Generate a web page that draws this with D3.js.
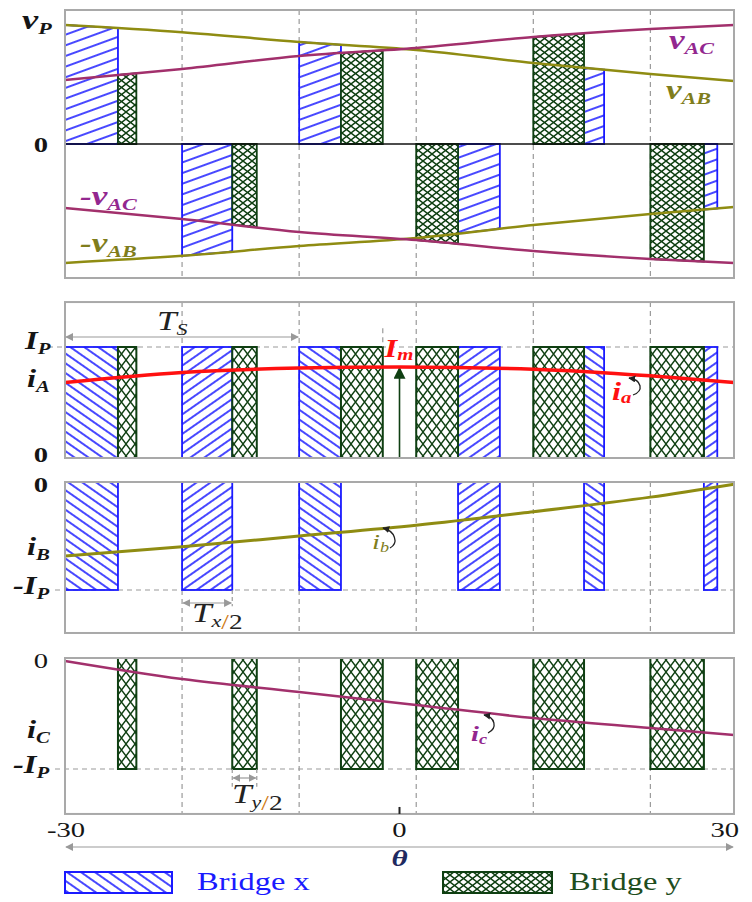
<!DOCTYPE html>
<html>
<head>
<meta charset="utf-8">
<script src="https://cdn.jsdelivr.net/npm/d3@7"></script>
<style>body{margin:0;background:#fff}</style>
</head>
<body>
<svg id="chart" width="752" height="902"></svg>
<script>
// curves (vP = 1, IP = 1)
const theta = [-30, -19.5, -9, 1.5, 12, 22.5, 30];
const vAB = [1.0, 0.94, 0.857, 0.79, 0.681, 0.588, 0.529];
const vAC = [0.538, 0.63, 0.739, 0.807, 0.899, 0.966, 1.0];
const thetaA = [-30, -19.5, -9, 0, 12, 22.5, 30];
const iA = [0.68, 0.77, 0.81, 0.82, 0.80, 0.74, 0.68];
const iB = [-0.685, -0.60, -0.50, -0.40, -0.275, -0.14, -0.02];
const iC = [-0.027, -0.19, -0.306, -0.423, -0.541, -0.631, -0.694];

// switching periods
const periodStart = [-30, -19.5, -9, 1.5, 12, 22.5];
const polarity = [1, -1, 1, -1, 1, -1];
const bridgeX = [[-30, -25.25], [-19.5, -15], [-9, -5.25], [5.25, 9], [16.55, 18.35], [27.3, 28.5]];
const bridgeY = [[-25.25, -23.6], [-15, -12.8], [-5.25, -1.5], [1.5, 5.25], [12, 16.55], [22.5, 27.3]];
const Ts = 21;
const xTicks = [-30, 0, 30];

const BLUE = '#1a1aff', GREEN = '#0f3f12', OLIVE = '#8f8c12', PURPLE = '#a2306c',
      RED = '#ff1010', GREY = '#a9a9a9', DASH = '#9a9a9a';
const serif = '"Liberation Serif", "Times New Roman", serif';
const sx = 1.3; // the figure's text is stretched sideways

const svg = d3.select('#chart');
const defs = svg.append('defs');

const x = d3.scaleLinear([-30, 30], [65, 734]);
const yV = d3.scaleLinear([-1.126, 1.126], [278, 10]);
const yA = d3.scaleLinear([0, 1], [458, 347]);
const yB = d3.scaleLinear([-1, 0], [590, 482]);
const yC = d3.scaleLinear([-1, 0], [769, 658]);

const fAB = d3.scaleLinear(theta, vAB);
const fAC = d3.scaleLinear(theta, vAC);

// patterns
function hatch(id, angle, gap, color, w) {
    defs.append('pattern').attr('id', id)
        .attr('patternUnits', 'userSpaceOnUse')
        .attr('width', gap).attr('height', gap)
        .attr('patternTransform', `rotate(${angle})`)
        .append('line')
        .attr('x1', gap / 2).attr('y1', -1).attr('x2', gap / 2).attr('y2', gap + 1)
        .attr('stroke', color).attr('stroke-width', w);
}
function cross(id, w, h) {
    const p = defs.append('pattern').attr('id', id)
        .attr('patternUnits', 'userSpaceOnUse')
        .attr('width', w).attr('height', h);
    p.append('rect').attr('width', w).attr('height', h).attr('fill', '#fff');
    p.append('path')
        .attr('d', `M${-w/2},${-h/2} L${w*1.5},${h*1.5} M${w*1.5},${-h/2} L${-w/2},${h*1.5}`)
        .attr('stroke', GREEN).attr('stroke-width', 1.4).attr('fill', 'none');
}
hatch('hx-top', 70, 10, BLUE, 1.6);
hatch('hx-down', -55, 8, BLUE, 1.6);
hatch('hx-up', 55, 8, BLUE, 1.6);
cross('cy-top', 9, 7);
cross('cy', 9, 12);

function marker(id, color, size) {
    defs.append('marker').attr('id', id)
        .attr('viewBox', '0 0 10 10').attr('refX', 9).attr('refY', 5)
        .attr('markerWidth', size).attr('markerHeight', size)
        .attr('markerUnits', 'userSpaceOnUse')
        .attr('orient', 'auto-start-reverse')
        .append('path').attr('d', 'M0,0 L10,5 L0,10 z').attr('fill', color);
}
marker('ar-grey', '#999', 8);
marker('ar-green', GREEN, 12);
marker('ar-black', '#222', 7);

function label(x0, y0, main, sub, o) {
    o = o || {};
    const size = o.size || 24;
    const t = svg.append('text')
        .attr('transform', `translate(${x0},${y0}) scale(${sx},1)`)
        .attr('text-anchor', o.anchor || 'start')
        .style('font-family', serif)
        .style('font-size', size + 'px')
        .style('font-weight', o.weight || 'bold')
        .style('font-style', o.italic === false ? 'normal' : 'italic')
        .attr('fill', o.color || '#151515');
    t.append('tspan').text(main);
    if (sub) {
        t.append('tspan').attr('dy', o.subDy || 5)
            .style('font-size', Math.round(size * 0.62) + 'px').text(sub);
    }
    return t;
}

function gridLines(y, lo, hi) {
    svg.append('g').selectAll('line')
        .data(periodStart.slice(1))
        .enter().append('line')
        .attr('x1', d => x(d)).attr('x2', d => x(d))
        .attr('y1', y(hi)).attr('y2', y(lo))
        .attr('stroke', DASH).attr('stroke-width', 1.2).attr('stroke-dasharray', '5,4');
}
function box(y, lo, hi) {
    svg.append('rect')
        .attr('x', x(-30)).attr('y', y(hi))
        .attr('width', x(30) - x(-30)).attr('height', y(lo) - y(hi))
        .attr('fill', 'none').attr('stroke', GREY).attr('stroke-width', 2);
}
function hline(y, v, x0) {
    svg.append('line')
        .attr('x1', x0).attr('x2', x(30)).attr('y1', y(v)).attr('y2', y(v))
        .attr('stroke', DASH).attr('stroke-width', 1.2).attr('stroke-dasharray', '5,4');
}
function curve(y, xs, vs, color, w) {
    svg.append('path')
        .datum(xs.map((t, i) => [t, vs[i]]))
        .attr('d', d3.line().x(d => x(d[0])).y(d => y(d[1])).curve(d3.curveMonotoneX))
        .attr('fill', 'none').attr('stroke', color).attr('stroke-width', w);
}
function arrow(x1, y1, x2, y2, m, color, w, both) {
    const l = svg.append('line')
        .attr('x1', x1).attr('y1', y1).attr('x2', x2).attr('y2', y2)
        .attr('stroke', color).attr('stroke-width', w)
        .attr('marker-end', `url(#${m})`);
    if (both) l.attr('marker-start', `url(#${m})`);
}
function curly(d) {
    svg.append('path').attr('d', d).attr('fill', 'none')
        .attr('stroke', '#222').attr('stroke-width', 1.3)
        .attr('marker-end', 'url(#ar-black)');
}

// ---------- panel 1: line voltages ----------
gridLines(yV, -1.126, 1.126);

function voltBar(iv, f, s, fill, stroke) {
    const pts = d3.range(iv[0], iv[1], 0.25).concat([iv[1]]);
    svg.append('path')
        .datum(pts)
        .attr('d', d3.area().x(d => x(d)).y0(yV(0)).y1(d => yV(s * f(d))))
        .attr('fill', fill).attr('stroke', stroke).attr('stroke-width', 1.8);
}
polarity.forEach((s, i) => {
    voltBar(bridgeX[i], fAB, s, 'url(#hx-top)', BLUE);
    voltBar(bridgeY[i], fAC, s, 'url(#cy-top)', GREEN);
});

svg.append('line').attr('x1', x(-30)).attr('x2', x(30))
    .attr('y1', yV(0)).attr('y2', yV(0)).attr('stroke', '#111').attr('stroke-width', 1.6);
curve(yV, theta, vAB, OLIVE, 2.5);
curve(yV, theta, vAC, PURPLE, 2.5);
curve(yV, theta, vAB.map(v => -v), OLIVE, 2.5);
curve(yV, theta, vAC.map(v => -v), PURPLE, 2.5);
box(yV, -1.126, 1.126);

label(22, 29, 'v', 'P', {size: 28});
label(48, 152, '0', null, {size: 22, italic: false, anchor: 'end'});
label(669, 49, 'v', 'AC', {size: 27, color: '#93278f'});
label(666, 99, 'v', 'AB', {size: 27, color: '#7f7d1c'});
label(80, 205, '-v', 'AC', {size: 27, color: '#93278f'});
label(80, 252, '-v', 'AB', {size: 27, color: '#7f7d1c'});

// ---------- panel 2: iA ----------
gridLines(yA, 0, 1.405);
hline(yA, 1, 48);
polarity.forEach((s, i) => {
    const bx = bridgeX[i], by = bridgeY[i];
    svg.append('rect').attr('x', x(bx[0])).attr('y', yA(1))
        .attr('width', x(bx[1]) - x(bx[0])).attr('height', yA(0) - yA(1))
        .attr('fill', s > 0 ? 'url(#hx-down)' : 'url(#hx-up)')
        .attr('stroke', BLUE).attr('stroke-width', 1.8);
    svg.append('rect').attr('x', x(by[0])).attr('y', yA(1))
        .attr('width', x(by[1]) - x(by[0])).attr('height', yA(0) - yA(1))
        .attr('fill', 'url(#cy)').attr('stroke', GREEN).attr('stroke-width', 2);
});
svg.append('line')
    .attr('x1', x(bridgeY[2][1])).attr('x2', x(bridgeY[2][1]))
    .attr('y1', yA(1.17)).attr('y2', yA(1))
    .attr('stroke', DASH).attr('stroke-width', 1.2).attr('stroke-dasharray', '5,4');
arrow(x(0), yA(0), x(0), yA(iA[3]) + 1, 'ar-green', GREEN, 1.6);
curve(yA, thetaA, iA, RED, 3.5);
box(yA, 0, 1.405);

arrow(x(-30) + 1, 337, x(-30 + Ts) - 1, 337, 'ar-grey', '#999', 1.2, true);
label(157, 330, 'T', 'S', {size: 27, weight: 'normal', color: '#222'});
label(25, 349, 'I', 'P', {size: 25});
label(27, 387, 'i', 'A', {size: 25});
label(48, 462, '0', null, {size: 22, italic: false, anchor: 'end'});
label(399, 357, 'I', 'm', {size: 25, color: RED, anchor: 'middle', subDy: 3});
label(612, 400, 'i', 'a', {size: 25, color: RED, subDy: 3});
curly('M633,395 C644,391 642,380 629,378');

// ---------- panel 3: iB ----------
gridLines(yB, -1.398, 0);
hline(yB, -1, 55);
polarity.forEach((s, i) => {
    const bx = bridgeX[i];
    svg.append('rect').attr('x', x(bx[0])).attr('y', yB(0))
        .attr('width', x(bx[1]) - x(bx[0])).attr('height', yB(-1) - yB(0))
        .attr('fill', s > 0 ? 'url(#hx-down)' : 'url(#hx-up)')
        .attr('stroke', BLUE).attr('stroke-width', 1.8);
});
curve(yB, theta, iB, OLIVE, 3);
box(yB, -1.398, 0);

svg.append('line').attr('x1', x(bridgeX[1][1])).attr('x2', x(bridgeX[1][1]))
    .attr('y1', yB(-1)).attr('y2', yB(-1.15))
    .attr('stroke', DASH).attr('stroke-width', 1.2).attr('stroke-dasharray', '4,3');
arrow(x(bridgeX[1][0]) + 1, 603, x(bridgeX[1][1]) - 1, 603, 'ar-grey', '#999', 1.2, true);
label(192, 622, 'T', 'x', {size: 27, weight: 'normal', color: '#222'})
    .call(t => {
        t.append('tspan').attr('dy', 2).style('font-style', 'normal').style('font-size', '21px')
            .attr('fill', '#d07a10').text('/');
        t.append('tspan').style('font-style', 'normal').style('font-size', '21px').text('2');
    });
label(27, 555, 'i', 'B', {size: 25});
label(13, 594, '-I', 'P', {size: 25});
label(48, 492, '0', null, {size: 22, italic: false, anchor: 'end'});
label(372, 549, 'i', 'b', {size: 22, weight: 'normal', color: '#7f7d1c', subDy: 3});
curly('M390,548 C399,543 395,531 383,528');

// ---------- panel 4: iC ----------
gridLines(yC, -1.405, 0);
hline(yC, -1, 55);
bridgeY.forEach(by => {
    svg.append('rect').attr('x', x(by[0])).attr('y', yC(0))
        .attr('width', x(by[1]) - x(by[0])).attr('height', yC(-1) - yC(0))
        .attr('fill', 'url(#cy)').attr('stroke', GREEN).attr('stroke-width', 2);
});
curve(yC, theta, iC, PURPLE, 2.5);
box(yC, -1.405, 0);

[bridgeY[1][0], bridgeY[1][1]].forEach(t => {
    svg.append('line').attr('x1', x(t)).attr('x2', x(t))
        .attr('y1', yC(-1)).attr('y2', yC(-1.16))
        .attr('stroke', DASH).attr('stroke-width', 1.2).attr('stroke-dasharray', '4,3');
});
arrow(x(bridgeY[1][0]) + 1, 778, x(bridgeY[1][1]) - 1, 778, 'ar-grey', '#999', 1.2, true);
label(232, 803, 'T', 'y', {size: 27, weight: 'normal', color: '#222'})
    .call(t => {
        t.append('tspan').attr('dy', 2).style('font-style', 'normal').style('font-size', '21px')
            .attr('fill', '#d07a10').text('/');
        t.append('tspan').style('font-style', 'normal').style('font-size', '21px').text('2');
    });
label(48, 668, '0', null, {size: 22, weight: 'normal', italic: false, anchor: 'end'});
label(27, 738, 'i', 'C', {size: 25});
label(13, 773, '-I', 'P', {size: 25});
label(471, 741, 'i', 'c', {size: 22, color: '#93278f', subDy: 3});
curly('M488,733 C498,728 495,717 484,715');

// ---------- theta axis ----------
svg.append('line').attr('x1', x(0)).attr('x2', x(0))
    .attr('y1', yC(-1.405)).attr('y2', yC(-1.405) - 7)
    .attr('stroke', '#222').attr('stroke-width', 2);
xTicks.forEach((t, i) => {
    const first = i === 0, last = i === xTicks.length - 1;
    label(first ? x(t) - 18 : last ? x(t) + 5 : x(t), 837, String(t), null, {
        size: 22, weight: 'normal', italic: false,
        anchor: first ? 'start' : last ? 'end' : 'middle'
    });
});
arrow(x(-30) + 1, 847, x(30) - 1, 847, 'ar-grey', '#999', 1.2, true);
label(x(0), 866, 'θ', null, {size: 24, color: '#1f2a60', anchor: 'middle'});

// ---------- legend ----------
svg.append('rect').attr('x', 65).attr('y', 872).attr('width', 107).attr('height', 21)
    .attr('fill', 'url(#hx-down)').attr('stroke', BLUE).attr('stroke-width', 2);
label(197, 890, 'Bridge x', null, {size: 25, weight: 'normal', italic: false, color: BLUE});
svg.append('rect').attr('x', 443).attr('y', 872).attr('width', 109).attr('height', 21)
    .attr('fill', 'url(#cy-top)').attr('stroke', GREEN).attr('stroke-width', 2);
label(569, 890, 'Bridge y', null, {size: 25, weight: 'normal', italic: false, color: '#1e4d1e'});
</script>
</body>
</html>
